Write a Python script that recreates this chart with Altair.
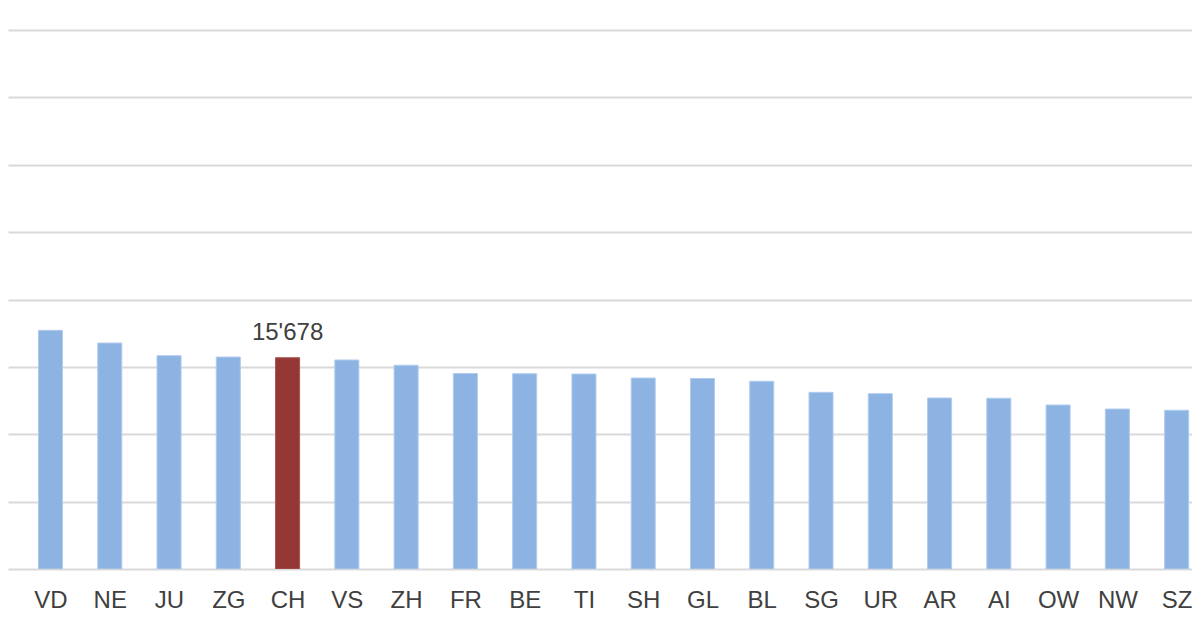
import altair as alt
import pandas as pd

cantons = ["GR", "VD", "NE", "JU", "ZG", "CH", "VS", "ZH", "FR", "BE", "TI",
           "SH", "GL", "BL", "SG", "UR", "AR", "AI", "OW", "NW", "SZ"]
values = [18110, 17710, 16770, 15830, 15730, 15678, 15510, 15120, 14510, 14490, 14470,
          14170, 14140, 13930, 13110, 13010, 12690, 12670, 12170, 11870, 11780]
highlight = "CH"
label_text = "15'678"

df = pd.DataFrame({
    "canton": cantons,
    "value": values,
    "idx": list(range(len(cantons))),
})
df["kind"] = ["highlight" if c == highlight else "normal" for c in cantons]
df["label"] = [label_text if c == highlight else "" for c in cantons]

label_map = "{" + ",".join(f"'{i}':'{c}'" for i, c in enumerate(cantons)) + "}"

x_scale = alt.Scale(domain=[0.283, 20.259], nice=False, zero=False)
y_scale = alt.Scale(domain=[0, 41633], nice=False)

base = alt.Chart(df).transform_calculate(
    x0="datum.idx - 0.2027", x1="datum.idx + 0.2027"
)

bars = base.mark_bar(clip=True, strokeWidth=1).encode(
    x=alt.X("x0:Q", scale=x_scale,
            axis=alt.Axis(values=list(range(1, len(cantons))),
                          labelExpr=f"{label_map}[datum.value + '']",
                          grid=False, ticks=False, domain=False, title=None,
                          labelFont="Liberation Sans", labelFontSize=24,
                          labelColor="#404040", labelPadding=38,
                          labelBaseline="alphabetic", labelFlush=False,
                          labelOverlap=False)),
    x2="x1:Q",
    y=alt.Y("value:Q", scale=y_scale,
            axis=alt.Axis(values=list(range(0, 40001, 5000)), labels=False,
                          ticks=False, domain=False, title=None, grid=True,
                          gridColor="#d9d9d9", gridWidth=2)),
    y2=alt.Y2Datum(0),
    color=alt.Color("kind:N", scale=alt.Scale(domain=["normal", "highlight"],
                                              range=["#8db3e2", "#953735"]),
                    legend=None),
    stroke=alt.Stroke("kind:N", scale=alt.Scale(domain=["normal", "highlight"],
                                                range=["#b0cbee", "#a85452"]),
                      legend=None),
)

text = base.transform_filter("datum.label != ''").mark_text(
    font="Liberation Sans", fontSize=24, color="#404040",
    baseline="alphabetic", dy=-18
).encode(
    x=alt.X("idx:Q", scale=x_scale),
    y=alt.Y("value:Q", scale=y_scale),
    text="label:N",
)

chart = alt.layer(bars, text).properties(
    width=1184, height=561, padding=0
).configure_view(stroke=None)

chart.save("out.html", embed_options={"renderer": "svg", "actions": False})
